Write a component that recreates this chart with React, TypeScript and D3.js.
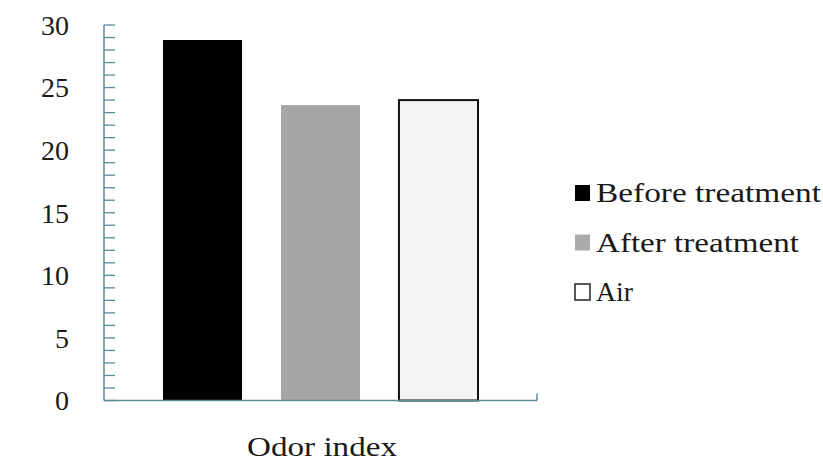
import React from "react";
import * as d3 from "d3";

// Odor index measured before/after treatment and for ambient air
const seriesNames: string[] = ["Before treatment", "After treatment", "Air"];
const seriesValues: number[] = [28.8, 23.6, 24.0];
const categoryLabel = "Odor index";
const yTickLabels: number[] = [0, 5, 10, 15, 20, 25, 30];

const fills = ["#000000", "#a6a6a6", "#f4f4f4"];
const strokes = ["none", "none", "#111111"];
const legendFills = ["#000000", "#ababab", "#ffffff"];
const legendStrokes = ["none", "none", "#222222"];
// horizontal extent of each legend label
const legendTextLengths = [225, 203, 37];

const W = 823;
const H = 462;
const axisColor = "#5b8a99";
const textColor = "#1a1a1a";
const font = "Liberation Serif, Times New Roman, Tinos, Times, serif";

export default function App() {
  const x = d3
    .scaleBand<string>()
    .domain(seriesNames)
    .range([104, 537])
    .paddingInner(0.33)
    .paddingOuter(0.5);

  const y = d3.scaleLinear().domain([0, 30]).range([400.5, 25]);
  const minorTicks = d3.range(0, 31, 1);

  const textStyle = { fontFamily: font, fill: textColor } as React.CSSProperties;

  return (
    <svg
      width={W}
      height={H}
      style={{ position: "absolute", left: 0, top: 0, background: "#fff" }}
    >
      <rect x={0} y={0} width={W} height={H} fill="#ffffff" />

      {/* bars */}
      {seriesNames.map((s, i) => (
        <rect
          key={s}
          x={x(s)}
          y={y(seriesValues[i])}
          width={x.bandwidth()}
          height={y(0) - y(seriesValues[i])}
          fill={fills[i]}
          stroke={strokes[i]}
          strokeWidth={2}
        />
      ))}

      {/* y axis */}
      <line x1={104} x2={104} y1={y(30)} y2={y(0)} stroke={axisColor} strokeWidth={1.5} />
      {minorTicks.map((t) => (
        <line
          key={t}
          x1={104}
          x2={115}
          y1={y(t)}
          y2={y(t)}
          stroke={axisColor}
          strokeWidth={1.3}
        />
      ))}
      {yTickLabels.map((t) => (
        <text
          key={t}
          x={69}
          y={y(t)}
          dy="0.35em"
          textAnchor="end"
          fontSize={28}
          style={textStyle}
        >
          {t}
        </text>
      ))}

      {/* x axis */}
      <line x1={104} x2={537} y1={y(0)} y2={y(0)} stroke={axisColor} strokeWidth={1.5} />
      <line x1={537} x2={537} y1={y(0)} y2={y(0) - 7} stroke={axisColor} strokeWidth={1.5} />
      <text
        x={247}
        y={456}
        fontSize={28}
        style={textStyle}
        textLength={150}
        lengthAdjust="spacingAndGlyphs"
      >
        {categoryLabel}
      </text>

      {/* legend */}
      {seriesNames.map((s, i) => {
        const base = 202 + i * 49.5;
        return (
          <g key={s}>
            <rect
              x={575}
              y={base - 17}
              width={15}
              height={16}
              fill={legendFills[i]}
              stroke={legendStrokes[i]}
              strokeWidth={1.5}
            />
            <text
              x={596}
              y={base}
              fontSize={27}
              style={textStyle}
              textLength={legendTextLengths[i]}
              lengthAdjust="spacingAndGlyphs"
            >
              {s}
            </text>
          </g>
        );
      })}
    </svg>
  );
}
